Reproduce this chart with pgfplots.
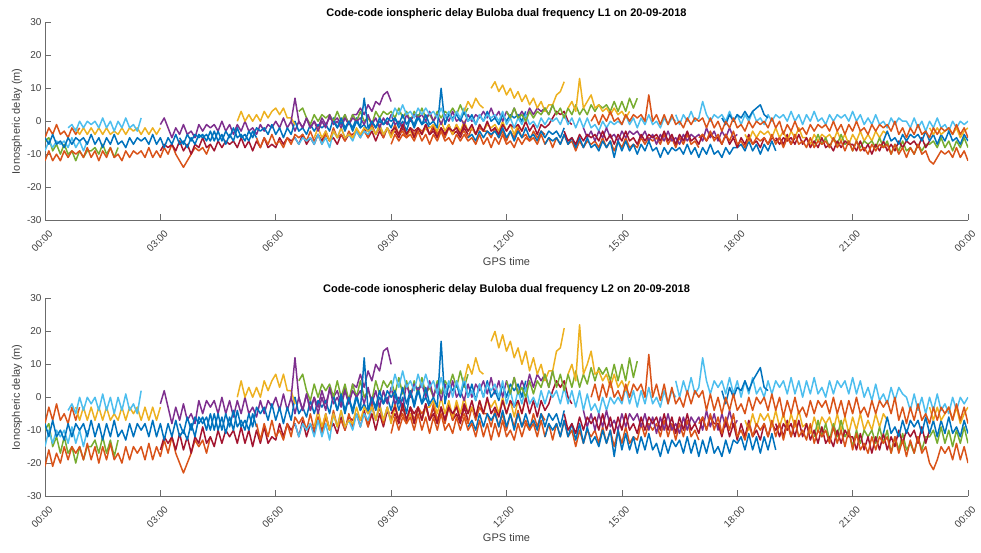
\documentclass[border=0pt]{standalone}
\usepackage{fontspec}
\setmainfont{Liberation Sans}
\usepackage{pgfplots}
\pgfplotsset{compat=1.18}

% MATLAB default line colours
\definecolor{mb}{rgb}{0,0.447,0.741}
\definecolor{mo}{rgb}{0.85,0.325,0.098}
\definecolor{my}{rgb}{0.929,0.694,0.125}
\definecolor{mp}{rgb}{0.494,0.184,0.556}
\definecolor{mg}{rgb}{0.466,0.674,0.188}
\definecolor{mc}{rgb}{0.301,0.745,0.933}
\definecolor{mr}{rgb}{0.635,0.078,0.184}
\definecolor{axgray}{rgb}{0.42,0.42,0.42}
\definecolor{lblgray}{rgb}{0.25,0.25,0.25}

% one satellite track: colour, start hour, delays sampled every 6 min
\newcommand\trk[3]{\addplot[#1] table[row sep=\\,header=false,x expr={#2+0.1*\coordindex},y index=0]{#3};}

\pgfplotsset{
  ionax/.style={
    scale only axis, width=923pt, height=197.5pt,
    xmin=0, xmax=24, ymin=-30, ymax=30,
    axis lines=left, axis line style={-, draw=axgray, line width=0.7pt},
    tick align=inside, major tick length=6pt,
    tick style={draw=axgray, line width=0.7pt},
    xtick={0,3,...,24},
    xticklabels={00:00,03:00,06:00,09:00,12:00,15:00,18:00,21:00,00:00},
    ytick={-30,-20,...,30},
    /pgf/number format/assume math mode=true,
    tick label style={font=\fontsize{10}{12}\selectfont, text=lblgray},
    xticklabel style={xshift=-3pt, yshift=-21pt, rotate=45, anchor=center},
    every axis title/.style={at={(axis description cs:0.5,1.029)}, anchor=base,
      font=\fontsize{11}{13}\selectfont\bfseries},
    every axis x label/.style={at={(axis description cs:0.5,-0.228)}, anchor=base,
      font=\fontsize{11}{13}\selectfont, text=lblgray},
    every axis y label/.style={at={(axis description cs:-0.0303,0.5)}, rotate=90,
      anchor=center, font=\fontsize{11}{13}\selectfont, text=lblgray},
    xlabel={GPS time}, ylabel={Ionospheric delay (m)},
    no markers,
    every axis plot/.append style={line width=1.5pt, line join=round},
  }
}

\begin{document}
\begin{tikzpicture}
\useasboundingbox (0,0) rectangle (981pt,552pt);

% ---------------- L1 ----------------
\begin{axis}[ionax, at={(45pt,332pt)}, anchor=south west,
  title={Code-code ionspheric delay Buloba dual frequency L1 on 20-09-2018}]
\trk{mg}{0.0}{-6\\-5\\-9\\-7\\-10\\-7\\-10\\-9\\-12\\-9\\-11\\-9\\-9\\-8\\-10\\-7\\-10\\-8\\-11\\-8\\}
\trk{mo}{0.0}{-12\\-9\\-12\\-10\\-12\\-9\\-11\\-9\\-10\\-9\\-11\\-8\\-11\\-9\\-12\\-9\\-11\\-8\\-11\\-10\\-12\\-9\\-11\\-9\\-10\\-9\\-11\\-8\\-11\\-9\\-11\\-8\\-10\\-7\\-10\\-12\\-14\\-12\\-10\\-8\\-9\\-8\\-10\\-7\\}
\trk{mc}{0.0}{-9\\-6\\-8\\-6\\-7\\-6\\-8\\-5\\-8\\-6\\-9\\-6\\}
\trk{mo}{0.0}{-5\\-2\\-4\\-1\\-4\\-3\\-5\\-2\\-4\\-2\\}
\trk{my}{0.8}{-2\\-4\\-2\\-4\\-2\\-4\\-2\\-4\\-2\\-4\\-3\\-4\\-2\\-4\\-2\\-3\\-2\\-4\\-2\\-4\\-2\\-4\\-2\\}
\trk{mc}{0.6}{-2\\-1\\-3\\0\\-2\\0\\-1\\0\\-2\\1\\-2\\0\\-3\\0\\-2\\1\\-2\\-1\\-3\\1\\}
\trk{mr}{3.0}{-9\\-7\\-8\\-7\\-9\\-6\\-9\\-7\\-10\\-7\\-8\\-5\\-8\\-7\\-9\\-6\\-8\\-6\\-7\\-6\\-8\\-5\\-8\\-6\\-9\\-6\\-8\\-5\\-8\\-7\\-8\\-5\\-7\\-5\\-6\\-5\\-7\\-4\\-7\\-5\\-7\\-4\\-6\\-3\\-6\\-5\\-7\\-4\\-6\\-4\\-4\\-3\\-5\\-2\\-5\\-3\\-6\\-3\\-5\\-2\\-4\\-3\\-5\\-2\\-4\\-2\\-3\\-2\\-4\\-1\\-4\\-2\\-5\\-2\\-4\\-1\\-4\\-3\\-5\\-2\\-4\\}
\trk{mp}{3.0}{-1\\1\\-2\\-5\\-2\\-4\\-1\\-4\\-3\\-5\\-1\\-3\\-1\\-2\\-1\\-3\\0\\-3\\-1\\-4\\-1\\-3\\0\\-3\\-2\\-4\\-1\\-3\\-1\\-2\\0\\-2\\1\\-2\\0\\-3\\0\\-2\\1\\-2\\0\\-2\\1\\-1\\1\\0\\1\\-1\\2\\-1\\2\\2\\4\\2\\5\\3\\6\\5\\8\\9\\6\\}
\trk{mb}{0.0}{-5\\-7\\-4\\-7\\-6\\-8\\-5\\-7\\-5\\-6\\-5\\-7\\-4\\-7\\-5\\-8\\-5\\-7\\-4\\-7\\-6\\-8\\-5\\-7\\-5\\-6\\-5\\-7\\-4\\-7\\-5\\-8\\-5\\-7\\-4\\-7\\-6\\-8\\-5\\-7\\-4\\-5\\-4\\-6\\-3\\-6\\-4\\-7\\-4\\-6\\-2\\-5\\-4\\-6\\-3\\-5\\}
\trk{mb}{3.5}{-5\\-7\\-4\\-6\\-4\\-5\\-4\\-6\\-3\\-6\\-3\\-6\\-3\\-5\\-2\\-5\\-4\\-6\\-3\\-5\\-2\\-3\\-2\\-4\\-1\\-4\\-2\\-5\\-2\\-4\\0\\-3\\-2\\-4\\-1\\-3\\-1\\-2\\-1\\-3\\1\\-2\\0\\-3\\0\\-2\\1\\-2\\-1\\-3\\0\\-2\\0\\-1\\0\\-2\\1\\-2\\0\\-3\\1\\-1\\2\\-1\\0\\-2\\}
\trk{my}{5.0}{0\\3\\0\\2\\0\\2\\0\\3\\1\\3\\4\\2\\4\\1\\1\\-1\\}
\trk{mo}{5.5}{-5\\-8\\-5\\-7\\-4\\-7\\-6\\-8\\-5\\-7\\-4\\-5\\-4\\-6\\-3\\-6\\-4\\-7\\-4\\-6\\-2\\-5\\-4\\-6\\-3\\-5\\-3\\-4\\-3\\-5\\-1\\-4\\-2\\-5\\-2\\-4\\-1\\-4\\-3\\-5\\-2\\-4\\-2\\-3\\-2\\-4\\-1\\-4\\-2\\-5\\-2\\-4\\-1\\-4\\-3\\-5\\-2\\-4\\-2\\-3\\-3\\-5\\-2\\-5\\-3\\-6\\-3\\-5\\-2\\-5\\-4\\-6\\-3\\-5\\-3\\-4\\}
\trk{mg}{6.6}{3\\4\\1\\-1\\2\\0\\2\\1\\2\\0\\3\\0\\2\\-1\\2\\0\\3\\0\\1\\-1\\3\\1\\3\\2\\3\\1\\4\\1\\3\\0\\3\\1\\4\\1\\2\\0\\3\\1\\3\\2\\4\\2\\5\\2\\4\\}
\trk{mc}{6.5}{-5\\-7\\-5\\-6\\-5\\-7\\-4\\-7\\-5\\-8\\-3\\-5\\-2\\-5\\-4\\-6\\-3\\-5\\-3\\-4\\-2\\-4\\-1\\-4\\-2\\-5\\}
\trk{my}{7.0}{-5\\-2\\-5\\-3\\-6\\-3\\-5\\-2\\-5\\-4\\-5\\-2\\-4\\-2\\-3\\-2\\-4\\-1\\-4\\-2\\-5\\-2\\-4\\-1\\-4\\-3\\-5\\-2\\-4\\-2\\-2\\-1\\-3\\0\\-3\\-1\\-4\\-1\\-3\\0\\-3\\-2\\-4\\-1\\-3\\-1\\-2\\-1\\-3\\0\\-3\\-1\\-4\\-1\\-3\\0\\}
\trk{mp}{6.4}{0\\7\\0\\-2\\1\\-2\\0\\-3\\0\\-2\\2\\-1\\0\\-2\\1\\-1\\1\\0\\1\\-1\\2\\-1\\1\\-2\\1\\-1\\2\\-1\\0\\-2\\2\\0\\2\\1\\2\\0\\3\\0\\2\\-1\\2\\0\\3\\0\\1\\-1\\2\\0\\2\\1\\3\\1\\4\\1\\3\\0\\3\\1\\4\\1\\3\\1\\4\\2\\4\\3\\4\\2\\5\\}
\trk{mr}{9.0}{-3\\-2\\-4\\-1\\-4\\-2\\-5\\-2\\-4\\-1\\-4\\-3\\-5\\-2\\-4\\-2\\-3\\-2\\-4\\-1\\-3\\-1\\-4\\-1\\-3\\0\\-3\\-2\\-4\\-1\\-3\\-1\\-2\\-1\\-3\\0\\-3\\-1\\-4\\-1\\-2\\-1\\1\\3\\2\\3\\0\\-1\\}
\trk{mb}{7.5}{0\\-2\\1\\-2\\0\\-3\\0\\-2\\7\\-2\\0\\-2\\1\\-1\\1\\0\\1\\-1\\2\\-1\\1\\-2\\1\\-1\\2\\-1\\0\\-2\\10\\-1\\2\\1\\2\\0\\3\\0\\2\\-1\\2\\0\\3\\0\\1\\-1\\2\\0\\2\\1\\2\\0\\3\\}
\trk{mc}{9.0}{1\\4\\2\\5\\2\\3\\1\\4\\2\\4\\2\\3\\1\\4\\1\\3\\0\\3\\1\\4\\0\\1\\-1\\2\\0\\2\\1\\2\\0\\3\\-1\\1\\-2\\1\\-1\\2\\-1\\0\\-2\\1\\-1\\1\\0\\1\\-1\\2\\-1\\1\\-2\\1\\-2\\1\\-2\\-1\\-3\\0\\-2\\0\\-1\\0\\-1\\2\\-1\\1\\-2\\1\\-1\\2\\-1\\0\\-2\\1\\-1\\1\\0\\}
\trk{my}{10.9}{3\\6\\4\\7\\5\\4\\}
\trk{my}{11.6}{10\\12\\9\\11\\8\\10\\7\\9\\6\\8\\5\\7\\4\\6\\3\\5\\5\\8\\9\\12\\}
\trk{mb}{11.0}{-5\\-4\\-6\\-3\\-5\\-3\\-4\\-3\\-5\\-2\\-5\\-3\\-6\\-3\\-5\\-2\\-5\\-4\\-6\\-3\\-5\\-3\\-4\\-3\\-5\\-2\\}
\trk{mo}{9.0}{-7\\-4\\-6\\-4\\-5\\-4\\-6\\-3\\-6\\-4\\-7\\-4\\-6\\-3\\-6\\-5\\-7\\-4\\-6\\-4\\-6\\-5\\-7\\-4\\-7\\-5\\-8\\-5\\-7\\-4\\-7\\-6\\-8\\-5\\-7\\-5\\-6\\-5\\-7\\-4\\-7\\-5\\-8\\-5\\-7\\-4\\-7\\-6\\-9\\-6\\-8\\-6\\-7\\-6\\-8\\-5\\-8\\-6\\-9\\-6\\-8\\-5\\-8\\-7\\-8\\-5\\-7\\-5\\-6\\-5\\-7\\-4\\-7\\-5\\-8\\-5\\-7\\-4\\-7\\-6\\-8\\}
\trk{mg}{12.0}{3\\1\\4\\1\\2\\0\\3\\1\\3\\2\\4\\2\\5\\2\\4\\1\\4\\2\\5\\2\\4\\2\\5\\3\\5\\4\\5\\3\\6\\3\\6\\3\\7\\4\\7\\}
\trk{my}{13.6}{4\\6\\3\\13\\4\\6\\8\\4\\5\\3\\4\\2\\4\\2\\3\\1\\3\\}
\trk{mp}{14.0}{-2\\-5\\-3\\-6\\-3\\-5\\-2\\-5\\-4\\-6\\-3\\-5\\-3\\-4\\-3\\-5\\-3\\-6\\-4\\-7\\-4\\-6\\-3\\-6\\-5\\-7\\-4\\-6\\-4\\-5\\-4\\-6\\-2\\-5\\-3\\-6\\-3\\-5\\-2\\-5\\-4\\}
\trk{mb}{13.0}{-7\\-5\\-6\\-5\\-7\\-4\\-7\\-5\\-8\\-5\\-8\\-5\\-8\\-7\\-9\\-6\\-8\\-6\\-11\\-6\\-9\\-6\\-9\\-7\\-10\\-7\\-9\\-6\\-9\\-8\\-11\\-8\\-10\\-8\\-9\\-8\\-10\\-7\\-10\\-8\\-11\\-8\\-10\\-7\\-10\\-9\\-11\\-8\\-10\\-8\\-8\\-7\\-9\\-6\\-9\\-7\\-10\\-7\\-9\\-6\\-9\\}
\trk{mr}{13.5}{-3\\-6\\-5\\-7\\-4\\-6\\-4\\-5\\-4\\-6\\-3\\-6\\-4\\-7\\-4\\-6\\-3\\-6\\-5\\-7\\-4\\-6\\-4\\-5\\-4\\-6\\-3\\-6\\-4\\-7\\-4\\-6\\-3\\-6\\-5\\-7\\-4\\-6\\-4\\-5\\-5\\-7\\-4\\-7\\-5\\-8\\-5\\-7\\-4\\-7\\-6\\-8\\-5\\-7\\-5\\-6\\-5\\-7\\-4\\-7\\-5\\}
\trk{mc}{16.4}{2\\-1\\2\\0\\3\\0\\1\\6\\2\\0\\2\\1\\2\\0\\3\\0\\2\\-1\\2\\0\\3\\0\\1\\-1\\2\\0\\2\\1\\2\\0\\3\\0\\2\\-1\\2\\0\\3\\0\\1\\-1\\2\\0\\2\\1\\2\\0\\3\\0\\2\\-1\\1\\-1\\2\\-1\\0\\-2\\1\\-1\\1\\0\\0\\-2\\1\\-2\\0\\-3\\0\\-2\\1\\-2\\-1\\-3\\0\\-2\\0\\-1\\0\\}
\trk{mb}{17.6}{1\\-1\\2\\0\\2\\1\\3\\1\\3\\4\\5\\2\\1\\}
\trk{my}{18.2}{-4\\-6\\-3\\-5\\-3\\-4\\-3\\-5\\-2\\-5\\-3\\-6\\-3\\-5\\-2\\-5\\-5\\-7\\-4\\-6\\-4\\-5\\-4\\-6\\-3\\-6\\-4\\-7\\-4\\-6\\-3\\-6\\-4\\-6\\-3\\-5\\-3\\-4\\}
\trk{mg}{20.0}{-7\\-4\\-7\\-5\\-8\\-5\\-7\\-4\\-7\\-6\\-9\\-6\\-8\\-6\\-7\\-6\\-8\\-5\\-8\\-6\\-10\\-7\\-9\\-6\\-9\\-8\\-10\\-7\\-9\\-7\\-7\\-6\\-8\\-5\\-8\\-6\\-9\\-6\\-8\\-5\\-8\\}
\trk{mr}{19.0}{-5\\-7\\-5\\-6\\-5\\-7\\-4\\-7\\-5\\-8\\-6\\-8\\-5\\-8\\-7\\-9\\-6\\-8\\-6\\-7\\-7\\-9\\-6\\-9\\-7\\-10\\-7\\-9\\-6\\-9\\-7\\-9\\-6\\-8\\-6\\-7\\-6\\-8\\-5\\-8\\-6\\}
\trk{mb}{21.8}{-6\\-3\\-6\\-5\\-7\\-4\\-6\\-4\\-5\\-4\\-6\\-3\\-6\\-4\\-7\\-4\\-6\\-3\\-6\\-5\\-7\\-4\\-6\\}
\trk{my}{23.0}{-2\\-4\\-2\\-4\\-3\\-2\\-4\\-2\\-5\\-3\\-2\\}
\trk{mo}{17.0}{-5\\-4\\-6\\-3\\-6\\-4\\-7\\-4\\-6\\-3\\-7\\-6\\-8\\-5\\-7\\-5\\-6\\-5\\-7\\-4\\-7\\-5\\-8\\-5\\-7\\-4\\-7\\-6\\-8\\-5\\-8\\-6\\-7\\-6\\-8\\-5\\-8\\-6\\-9\\-6\\-9\\-6\\-9\\-8\\-10\\-7\\-9\\-7\\-8\\-7\\-10\\-7\\-10\\-8\\-11\\-8\\-10\\-7\\-10\\-9\\-12\\-13\\-11\\-9\\-10\\-9\\-11\\-8\\-11\\-9\\-12\\}
\trk{mo}{14.2}{0\\2\\-1\\2\\0\\3\\0\\1\\-1\\2\\0\\2\\1\\2\\0\\8\\0\\2\\-1\\2\\-1\\2\\-1\\0\\-2\\1\\-1\\1\\0\\1\\-2\\1\\-2\\0\\-3\\0\\-2\\1\\-2\\-1\\-3\\0\\-2\\0\\-1\\0\\-2\\1\\-2\\0\\-4\\-1\\-3\\0\\-3\\-2\\-4\\-1\\-3\\-1\\-2\\-1\\-3\\0\\-3\\-1\\-4\\-1\\-3\\0\\-3\\-2\\-4\\-1\\-3\\-1\\-2\\-1\\-3\\0\\-4\\-2\\-5\\-2\\-4\\-1\\-4\\-3\\-5\\-2\\-4\\-2\\-3\\-2\\-4\\-1\\-4\\-2\\-5\\}
\end{axis}

% ---------------- L2 ----------------
\begin{axis}[ionax, at={(45pt,56pt)}, anchor=south west,
  title={Code-code ionospheric delay Buloba dual frequency L2 on 20-09-2018}]
\trk{mg}{0.0}{-10\\-8\\-15\\-12\\-17\\-12\\-17\\-15\\-20\\-15\\-19\\-15\\-15\\-13\\-17\\-12\\-17\\-13\\-18\\-13\\}
\trk{mo}{0.0}{-21\\-16\\-21\\-17\\-20\\-15\\-19\\-15\\-17\\-15\\-19\\-14\\-19\\-15\\-20\\-15\\-19\\-14\\-19\\-17\\-20\\-15\\-19\\-15\\-17\\-15\\-19\\-14\\-19\\-15\\-18\\-13\\-17\\-12\\-17\\-20\\-23\\-20\\-17\\-13\\-15\\-13\\-17\\-12\\}
\trk{mc}{0.0}{-15\\-10\\-14\\-10\\-12\\-10\\-14\\-9\\-14\\-10\\-15\\-10\\}
\trk{mo}{0.0}{-8\\-3\\-7\\-2\\-7\\-5\\-8\\-3\\-7\\-3\\}
\trk{my}{0.8}{-3\\-7\\-3\\-7\\-3\\-7\\-3\\-7\\-3\\-7\\-5\\-7\\-3\\-7\\-3\\-5\\-3\\-7\\-3\\-7\\-3\\-7\\-3\\}
\trk{mc}{0.6}{-4\\-2\\-5\\0\\-4\\0\\-2\\0\\-4\\1\\-4\\0\\-5\\0\\-4\\1\\-4\\-2\\-5\\2\\}
\trk{mr}{3.0}{-16\\-12\\-14\\-12\\-16\\-11\\-16\\-12\\-17\\-12\\-14\\-9\\-14\\-12\\-15\\-10\\-14\\-10\\-12\\-10\\-14\\-9\\-14\\-10\\-15\\-10\\-14\\-9\\-14\\-12\\-13\\-8\\-12\\-8\\-10\\-8\\-12\\-7\\-12\\-8\\-11\\-6\\-10\\-5\\-10\\-8\\-11\\-6\\-10\\-6\\-7\\-5\\-9\\-4\\-9\\-5\\-10\\-5\\-9\\-4\\-7\\-5\\-8\\-3\\-7\\-3\\-5\\-3\\-7\\-2\\-7\\-3\\-8\\-3\\-7\\-2\\-7\\-5\\-8\\-3\\-7\\}
\trk{mp}{3.0}{-2\\2\\-3\\-8\\-3\\-7\\-2\\-7\\-5\\-8\\-1\\-5\\-1\\-3\\-1\\-5\\0\\-5\\-1\\-6\\-1\\-5\\0\\-5\\-3\\-6\\-1\\-5\\-1\\-3\\0\\-4\\1\\-4\\0\\-5\\0\\-4\\1\\-4\\0\\-3\\2\\-2\\2\\0\\2\\-2\\3\\-2\\4\\3\\7\\3\\8\\5\\10\\8\\14\\15\\10\\}
\trk{mb}{0.0}{-8\\-12\\-7\\-12\\-10\\-13\\-8\\-12\\-8\\-10\\-8\\-12\\-7\\-12\\-8\\-13\\-8\\-12\\-7\\-12\\-10\\-13\\-8\\-12\\-8\\-10\\-8\\-12\\-7\\-12\\-8\\-13\\-8\\-12\\-7\\-12\\-10\\-13\\-8\\-12\\-6\\-8\\-6\\-10\\-5\\-10\\-6\\-11\\-6\\-10\\-4\\-9\\-7\\-10\\-5\\-9\\}
\trk{mb}{3.5}{-8\\-11\\-6\\-10\\-6\\-8\\-6\\-10\\-5\\-10\\-5\\-10\\-5\\-9\\-4\\-9\\-7\\-10\\-5\\-9\\-3\\-5\\-3\\-7\\-2\\-7\\-3\\-8\\-3\\-7\\0\\-5\\-3\\-6\\-1\\-5\\-1\\-3\\-1\\-5\\1\\-4\\0\\-5\\0\\-4\\1\\-4\\-2\\-5\\0\\-4\\0\\-2\\0\\-4\\1\\-4\\0\\-5\\2\\-2\\3\\-2\\0\\-3\\}
\trk{my}{5.0}{0\\5\\0\\3\\0\\3\\0\\5\\2\\5\\7\\3\\7\\2\\2\\-2\\}
\trk{mo}{5.5}{-8\\-13\\-8\\-12\\-7\\-12\\-10\\-13\\-8\\-12\\-6\\-8\\-6\\-10\\-5\\-10\\-6\\-11\\-6\\-10\\-4\\-9\\-7\\-10\\-5\\-9\\-5\\-7\\-5\\-9\\-2\\-7\\-3\\-8\\-3\\-7\\-2\\-7\\-5\\-8\\-3\\-7\\-3\\-5\\-3\\-7\\-2\\-7\\-3\\-8\\-3\\-7\\-2\\-7\\-5\\-8\\-3\\-7\\-3\\-5\\-5\\-9\\-4\\-9\\-5\\-10\\-5\\-9\\-4\\-9\\-7\\-10\\-5\\-9\\-5\\-7\\}
\trk{mg}{6.6}{5\\7\\2\\-1\\4\\0\\4\\2\\4\\0\\5\\0\\4\\-1\\4\\0\\5\\0\\2\\-1\\5\\1\\5\\3\\5\\1\\6\\1\\5\\0\\5\\1\\6\\1\\3\\0\\5\\1\\5\\3\\7\\3\\8\\3\\7\\}
\trk{mc}{6.5}{-8\\-12\\-8\\-10\\-8\\-12\\-7\\-12\\-8\\-13\\-5\\-9\\-4\\-9\\-7\\-10\\-5\\-9\\-5\\-7\\-3\\-7\\-2\\-7\\-3\\-8\\}
\trk{my}{7.0}{-9\\-4\\-9\\-5\\-10\\-5\\-9\\-4\\-9\\-7\\-8\\-3\\-7\\-3\\-5\\-3\\-7\\-2\\-7\\-3\\-8\\-3\\-7\\-2\\-7\\-5\\-8\\-3\\-7\\-3\\-3\\-1\\-5\\0\\-5\\-1\\-6\\-1\\-5\\0\\-5\\-3\\-6\\-1\\-5\\-1\\-3\\-1\\-5\\0\\-5\\-1\\-6\\-1\\-5\\0\\}
\trk{mp}{6.4}{0\\12\\0\\-4\\1\\-4\\0\\-5\\0\\-4\\3\\-2\\0\\-3\\2\\-2\\2\\0\\2\\-2\\3\\-2\\2\\-3\\2\\-2\\3\\-2\\0\\-3\\4\\0\\4\\2\\4\\0\\5\\0\\4\\-1\\4\\0\\5\\0\\2\\-1\\4\\0\\4\\2\\5\\1\\6\\1\\5\\0\\5\\1\\6\\1\\5\\2\\7\\3\\7\\5\\7\\3\\8\\}
\trk{mr}{9.0}{-5\\-3\\-7\\-2\\-7\\-3\\-8\\-3\\-7\\-2\\-7\\-5\\-8\\-3\\-7\\-3\\-5\\-3\\-7\\-2\\-5\\-1\\-6\\-1\\-5\\0\\-5\\-3\\-6\\-1\\-5\\-1\\-3\\-1\\-5\\0\\-5\\-1\\-6\\-1\\-4\\-2\\2\\5\\3\\5\\0\\-2\\}
\trk{mb}{7.5}{0\\-4\\1\\-4\\0\\-5\\0\\-4\\12\\-4\\0\\-3\\2\\-2\\2\\0\\2\\-2\\3\\-2\\2\\-3\\2\\-2\\3\\-2\\0\\-3\\17\\-2\\4\\2\\4\\0\\5\\0\\4\\-1\\4\\0\\5\\0\\2\\-1\\4\\0\\4\\2\\4\\0\\5\\}
\trk{mc}{9.0}{2\\7\\3\\8\\3\\5\\2\\7\\3\\7\\3\\5\\1\\6\\1\\5\\0\\5\\1\\6\\0\\2\\-1\\4\\0\\4\\2\\4\\0\\5\\-2\\2\\-3\\2\\-2\\3\\-2\\0\\-3\\2\\-2\\2\\0\\2\\-2\\3\\-2\\2\\-3\\2\\-4\\1\\-4\\-2\\-5\\0\\-4\\0\\-2\\0\\-2\\3\\-2\\2\\-3\\2\\-2\\3\\-2\\0\\-3\\2\\-2\\2\\0\\}
\trk{my}{10.9}{5\\10\\7\\12\\8\\7\\}
\trk{my}{11.6}{17\\20\\15\\19\\14\\17\\12\\15\\10\\14\\8\\12\\7\\10\\5\\8\\8\\14\\15\\21\\}
\trk{mb}{11.0}{-9\\-7\\-10\\-5\\-9\\-5\\-7\\-5\\-9\\-4\\-9\\-5\\-10\\-5\\-9\\-5\\-9\\-7\\-10\\-5\\-9\\-5\\-7\\-5\\-9\\-4\\}
\trk{mo}{9.0}{-11\\-6\\-10\\-6\\-8\\-6\\-10\\-5\\-10\\-6\\-11\\-6\\-10\\-5\\-10\\-8\\-11\\-6\\-10\\-6\\-10\\-8\\-12\\-7\\-12\\-8\\-13\\-8\\-12\\-7\\-12\\-10\\-13\\-8\\-12\\-8\\-10\\-8\\-12\\-7\\-12\\-8\\-13\\-8\\-12\\-7\\-12\\-10\\-15\\-10\\-14\\-10\\-12\\-10\\-14\\-9\\-14\\-10\\-15\\-10\\-14\\-9\\-14\\-12\\-13\\-8\\-12\\-8\\-10\\-8\\-12\\-7\\-12\\-8\\-13\\-8\\-12\\-7\\-12\\-10\\-13\\}
\trk{mg}{12.0}{5\\1\\6\\1\\3\\0\\5\\1\\5\\3\\7\\3\\8\\3\\7\\2\\7\\3\\8\\3\\7\\4\\9\\5\\9\\7\\9\\5\\10\\5\\10\\5\\12\\6\\11\\}
\trk{my}{13.6}{7\\10\\5\\22\\7\\10\\14\\7\\8\\5\\7\\3\\7\\3\\5\\2\\5\\}
\trk{mp}{14.0}{-4\\-9\\-5\\-10\\-5\\-9\\-4\\-9\\-7\\-10\\-5\\-9\\-5\\-7\\-5\\-9\\-5\\-10\\-6\\-11\\-6\\-10\\-5\\-10\\-8\\-11\\-6\\-10\\-6\\-8\\-6\\-10\\-4\\-9\\-5\\-10\\-5\\-9\\-4\\-9\\-7\\}
\trk{mb}{13.0}{-12\\-8\\-10\\-8\\-12\\-7\\-12\\-8\\-13\\-8\\-14\\-9\\-14\\-12\\-15\\-10\\-14\\-10\\-18\\-10\\-16\\-11\\-16\\-12\\-17\\-12\\-16\\-11\\-16\\-14\\-18\\-13\\-17\\-13\\-15\\-13\\-17\\-12\\-17\\-13\\-18\\-13\\-17\\-12\\-17\\-15\\-18\\-13\\-17\\-13\\-14\\-12\\-16\\-11\\-16\\-12\\-17\\-12\\-16\\-11\\-16\\}
\trk{mr}{13.5}{-5\\-10\\-8\\-11\\-6\\-10\\-6\\-8\\-6\\-10\\-5\\-10\\-6\\-11\\-6\\-10\\-5\\-10\\-8\\-11\\-6\\-10\\-6\\-8\\-6\\-10\\-5\\-10\\-6\\-11\\-6\\-10\\-5\\-10\\-8\\-11\\-6\\-10\\-6\\-8\\-8\\-12\\-7\\-12\\-8\\-13\\-8\\-12\\-7\\-12\\-10\\-13\\-8\\-12\\-8\\-10\\-8\\-12\\-7\\-12\\-8\\}
\trk{mc}{16.4}{5\\0\\5\\1\\6\\1\\3\\12\\5\\1\\5\\3\\5\\1\\6\\1\\5\\0\\5\\1\\6\\1\\3\\0\\5\\1\\5\\3\\5\\1\\6\\1\\5\\0\\5\\1\\6\\1\\3\\0\\5\\1\\5\\3\\5\\1\\6\\1\\5\\0\\3\\-1\\4\\-1\\1\\-2\\3\\-1\\3\\1\\0\\-4\\1\\-4\\0\\-5\\0\\-4\\1\\-4\\-2\\-5\\0\\-4\\0\\-2\\0\\}
\trk{mb}{17.6}{2\\-2\\3\\0\\3\\2\\5\\2\\5\\7\\9\\3\\2\\}
\trk{my}{18.2}{-7\\-10\\-5\\-9\\-5\\-7\\-5\\-9\\-4\\-9\\-5\\-10\\-5\\-9\\-4\\-9\\-8\\-11\\-6\\-10\\-6\\-8\\-6\\-10\\-5\\-10\\-6\\-11\\-6\\-10\\-5\\-10\\-7\\-10\\-5\\-9\\-5\\-7\\}
\trk{mg}{20.0}{-12\\-7\\-12\\-8\\-13\\-8\\-12\\-7\\-12\\-10\\-15\\-10\\-14\\-10\\-12\\-10\\-14\\-9\\-14\\-10\\-17\\-12\\-16\\-11\\-16\\-14\\-17\\-12\\-16\\-12\\-12\\-10\\-14\\-9\\-14\\-10\\-15\\-10\\-14\\-9\\-14\\}
\trk{mr}{19.0}{-8\\-12\\-8\\-10\\-8\\-12\\-7\\-12\\-8\\-13\\-10\\-14\\-9\\-14\\-12\\-15\\-10\\-14\\-10\\-12\\-12\\-16\\-11\\-16\\-12\\-17\\-12\\-16\\-11\\-16\\-12\\-15\\-10\\-14\\-10\\-12\\-10\\-14\\-9\\-14\\-10\\}
\trk{mb}{21.8}{-11\\-6\\-11\\-9\\-12\\-7\\-11\\-7\\-9\\-7\\-11\\-6\\-11\\-7\\-12\\-7\\-11\\-6\\-11\\-9\\-12\\-7\\-11\\}
\trk{my}{23.0}{-3\\-7\\-3\\-7\\-5\\-3\\-7\\-3\\-8\\-5\\-3\\}
\trk{mo}{17.0}{-8\\-6\\-10\\-5\\-10\\-6\\-11\\-6\\-10\\-5\\-12\\-10\\-13\\-8\\-12\\-8\\-10\\-8\\-12\\-7\\-12\\-8\\-13\\-8\\-12\\-7\\-12\\-10\\-13\\-8\\-14\\-10\\-12\\-10\\-14\\-9\\-14\\-10\\-15\\-10\\-16\\-11\\-16\\-14\\-17\\-12\\-16\\-12\\-14\\-12\\-17\\-12\\-17\\-13\\-18\\-13\\-17\\-12\\-17\\-15\\-20\\-22\\-19\\-15\\-17\\-15\\-19\\-14\\-19\\-15\\-20\\}
\trk{mo}{14.2}{0\\4\\-1\\4\\0\\5\\0\\2\\-1\\4\\0\\4\\2\\4\\0\\13\\0\\4\\-1\\4\\-2\\3\\-2\\0\\-3\\2\\-2\\2\\0\\2\\-4\\1\\-4\\0\\-5\\0\\-4\\1\\-4\\-2\\-5\\0\\-4\\0\\-2\\0\\-4\\1\\-4\\0\\-6\\-1\\-5\\0\\-5\\-3\\-6\\-1\\-5\\-1\\-3\\-1\\-5\\0\\-5\\-1\\-6\\-1\\-5\\0\\-5\\-3\\-6\\-1\\-5\\-1\\-3\\-1\\-5\\0\\-7\\-3\\-8\\-3\\-7\\-2\\-7\\-5\\-8\\-3\\-7\\-3\\-5\\-3\\-7\\-2\\-7\\-3\\-8\\}
\end{axis}
\end{tikzpicture}
\end{document}
